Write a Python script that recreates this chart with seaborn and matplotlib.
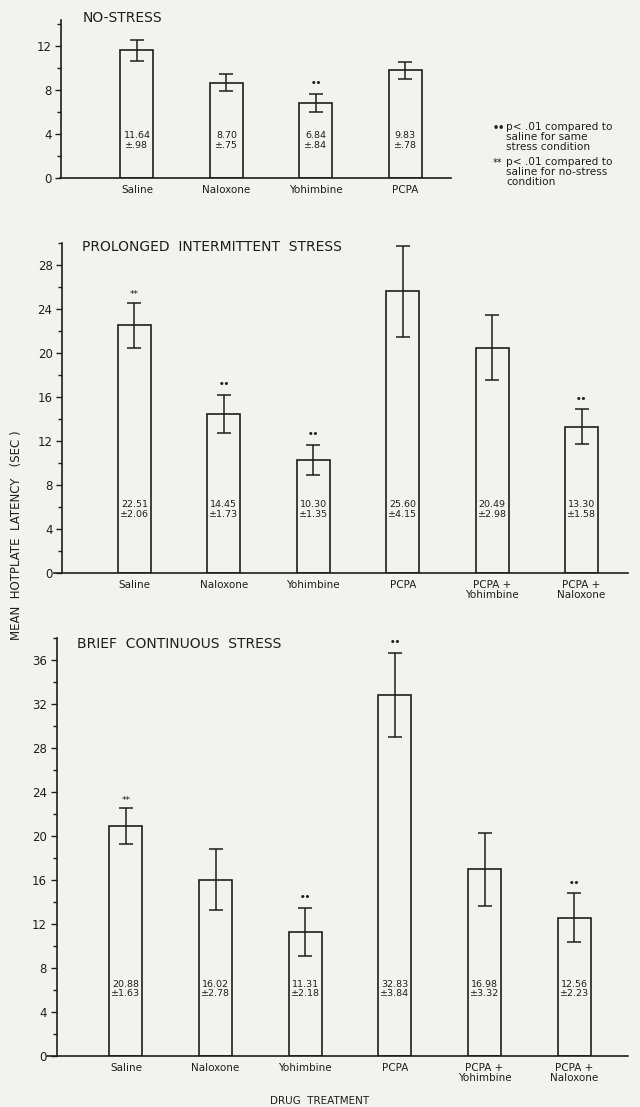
import matplotlib
matplotlib.use("Agg")
import matplotlib.pyplot as plt
import seaborn as sns
import numpy as np
from matplotlib.ticker import MultipleLocator

# ---------------- data ----------------
cats_no = ["Saline", "Naloxone", "Yohimbine", "PCPA"]
means_no = [11.64, 8.70, 6.84, 9.83]
sem_no = [0.98, 0.75, 0.84, 0.78]
marks_no = ["", "", "dot", ""]

cats_stress = ["Saline", "Naloxone", "Yohimbine", "PCPA", "PCPA +\nYohimbine", "PCPA +\nNaloxone"]
means_pro = [22.51, 14.45, 10.30, 25.60, 20.49, 13.30]
sem_pro = [2.06, 1.73, 1.35, 4.15, 2.98, 1.58]
marks_pro = ["star", "dot", "dot", "", "", "dot"]

means_brief = [20.88, 16.02, 11.31, 32.83, 16.98, 12.56]
sem_brief = [1.63, 2.78, 2.18, 3.84, 3.32, 2.23]
marks_brief = ["star", "", "dot", "dot", "", "dot"]

titles = ["NO-STRESS", "PROLONGED  INTERMITTENT  STRESS", "BRIEF  CONTINUOUS  STRESS"]
ylabel = "MEAN  HOTPLATE  LATENCY   (SEC )"
xlabel = "DRUG  TREATMENT"
legend_lines = [("\u2022\u2022", "p< .01 compared to\nsaline for same\nstress condition"),
                ("**", "p< .01 compared to\nsaline for no-stress\ncondition")]

# ---------------- style ----------------
sns.set_theme(style="white")
BG = "#f2f2f0"
INK = "#1e1e1e"
plt.rcParams["font.family"] = ["DejaVu Sans"]
plt.rcParams["text.color"] = INK
plt.rcParams["axes.edgecolor"] = INK
plt.rcParams["xtick.color"] = INK
plt.rcParams["ytick.color"] = INK

W, H = 640, 1107
fig = plt.figure(figsize=(W / 100, H / 100), dpi=100, facecolor=BG)


def px_axes(left, right, top, bottom):
    return fig.add_axes([left / W, 1 - bottom / H, (right - left) / W, (bottom - top) / H])


def fmt_sem(s):
    t = f"{s:.2f}"
    return t[1:] if t.startswith("0") else t


def draw_panel(ax, cats, means, sems, marks, ymax, major, xlim, lab_y, title, title_xy, inset):
    ax.set_facecolor(BG)
    sns.barplot(x=cats, y=means, ax=ax, width=0.37, color=BG, edgecolor=INK,
                linewidth=1.2, errorbar=None, saturation=1)
    xs = np.arange(len(cats))
    ax.errorbar(xs, means, yerr=sems, fmt="none", ecolor=INK, elinewidth=1.1,
                capsize=5, capthick=1.1)
    for x, m, s, mk in zip(xs, means, sems, marks):
        ax.text(x, lab_y, f"{m:.2f}\n\u00b1{fmt_sem(s)}", ha="center", va="center",
                fontsize=6.8, linespacing=1.1)
        if mk == "dot":
            ax.annotate("\u2022\u2022", (x, m + s), xytext=(0, 4), textcoords="offset points",
                        ha="center", va="bottom", fontsize=6.5, fontweight="bold")
        elif mk == "star":
            ax.annotate("**", (x, m + s), xytext=(0, 2.5), textcoords="offset points",
                        ha="center", va="bottom", fontsize=6.5)
    ax.set_ylim(0, ymax)
    ax.set_xlim(*xlim)
    ax.yaxis.set_major_locator(MultipleLocator(major))
    ax.yaxis.set_minor_locator(MultipleLocator(major / 2))
    ax.tick_params(axis="y", which="major", direction="out", length=4, width=1,
                   labelsize=8.5, left=True, pad=3)
    ax.tick_params(axis="y", which="minor", direction="out", length=3, width=1, left=True)
    ax.tick_params(axis="x", length=0, labelsize=7.5, pad=5)
    for lbl in ax.get_xticklabels():
        lbl.set_linespacing(1.0)
    for sp in ["top", "right"]:
        ax.spines[sp].set_visible(False)
    for sp in ["left", "bottom"]:
        ax.spines[sp].set_linewidth(1.2)
    if inset:
        ax.spines["left"].set_position(("outward", -inset))
    ax.set_xlabel("")
    ax.set_ylabel("")
    fig.text(title_xy[0] / W, 1 - title_xy[1] / H, title, ha="left", va="center", fontsize=10)


# x-limits chosen so the category centres sit where the reference has them
ax1 = px_axes(60, 451, 20, 178)
draw_panel(ax1, cats_no, means_no, sem_no, marks_no, 14.4, 4, (-0.86, 3.51), 3.4,
           titles[0], (83, 18), 1)

ax2 = px_axes(54, 628, 243, 573)
draw_panel(ax2, cats_stress, means_pro, sem_pro, marks_pro, 30, 4, (-0.90, 5.52), 5.75,
           titles[1], (82, 247), 6)

ax3 = px_axes(47, 628, 638, 1056)
draw_panel(ax3, cats_stress, means_brief, sem_brief, marks_brief, 38, 4, (-0.88, 5.60), 6.1,
           titles[2], (77, 644), 7)

# significance notes
ly = [122, 157]
for (sym, txt), y in zip(legend_lines, ly):
    fig.text(493 / W, 1 - (y + 1) / H, sym, ha="left", va="top", fontsize=7,
             fontweight="bold" if sym != "**" else "normal")
    fig.text(506 / W, 1 - y / H, txt, ha="left", va="top", fontsize=7.6, linespacing=1.0)

fig.text(17 / W, 1 - 535 / H, ylabel, rotation=90, ha="center", va="center", fontsize=8.5)
fig.text(320 / W, 1 - 1101 / H, xlabel, ha="center", va="center", fontsize=7.5)

fig.savefig("out.png", dpi=100, facecolor=BG)
